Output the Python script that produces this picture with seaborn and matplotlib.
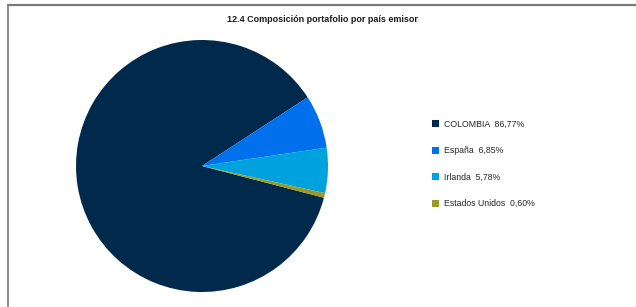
import matplotlib
matplotlib.use("Agg")
import matplotlib.pyplot as plt
import seaborn as sns
from matplotlib.lines import Line2D
from matplotlib.patches import Patch

sns.set_theme(style="white")
plt.rcParams['font.family'] = ['Liberation Sans Narrow', 'Liberation Sans', 'DejaVu Sans']

paises = ["COLOMBIA", "España", "Irlanda", "Estados Unidos"]
porcentajes = [86.77, 6.85, 5.78, 0.60]
colores = ["#00294b", "#0070ed", "#00a2dd", "#9a9a2a"]

titulo = "12.4 Composición portafolio por país emisor"

fig = plt.figure(figsize=(6.36, 3.07), dpi=100)
fig.patch.set_facecolor("white")

# marco de la hoja
fig.add_artist(Line2D([8/636, 1], [1 - 5/307, 1 - 5/307], color="#7a7a7a", lw=1.6))
fig.add_artist(Line2D([8/636, 8/636], [0, 1 - 5/307], color="#7a7a7a", lw=1.2))

fig.text(322/636, 1 - 20/307, titulo, ha="center", va="center",
         fontsize=6.5, fontweight="bold", color="#1a1a1a")

ax = fig.add_axes([76/636, (307-292)/307, 252/636, 252/307])
wedges, _ = ax.pie(porcentajes, colors=colores, startangle=345.4,
                   counterclock=False, radius=1,
                   wedgeprops=dict(linewidth=0))
ax.set_xlim(-1, 1)
ax.set_ylim(-1, 1)
ax.set_aspect("equal")
ax.axis("off")

etiquetas = [f"{p}  {v:.2f}%".replace(".", ",") for p, v in zip(paises, porcentajes)]
handles = [Patch(facecolor=c, edgecolor="none") for c in colores]
fig.legend(handles, etiquetas, loc="center left",
           bbox_to_anchor=(428/636, 1 - 164/307), frameon=False,
           fontsize=6.3, handlelength=0.8, handleheight=0.8,
           handletextpad=0.55, labelspacing=2.0, borderpad=0)

fig.savefig("out.png", dpi=100, facecolor="white")
